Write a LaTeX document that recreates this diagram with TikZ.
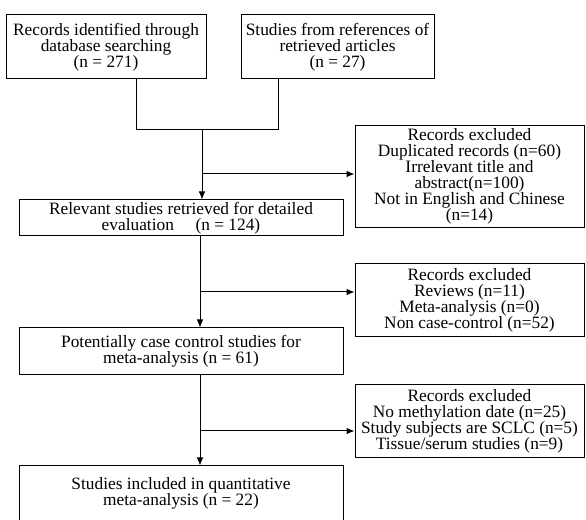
\documentclass[tikz,border=0pt]{standalone}
\usepackage{fontspec}
\setmainfont{Liberation Serif}
\usepackage{tikz}
\usetikzlibrary{arrows.meta, positioning, calc}

\begin{document}
\begin{tikzpicture}[x=0.75pt,y=-0.75pt,
    box/.style={rectangle,draw=black,line width=0.75pt,fill=white,align=center,inner sep=0pt,
        font=\fontsize{13}{12}\selectfont},
    link/.style={line width=0.75pt,black},
    arr/.style={link,-{Latex[length=6pt,width=5pt]}}]
    \clip (0,0) rectangle (586,520);

    % Sources
    \node[box,minimum width=150pt,minimum height=48pt] (db) at (106,47) {Records identified through\\ database searching\\ (n = 271)};
    \node[box,minimum width=144.75pt,minimum height=48pt] (refs) at (337.5,47) {Studies from references of\\ retrieved articles\\ (n = 27)};

    % Main column
    \node[box,minimum width=243pt,minimum height=27pt] (relevant) at (181,218) {Relevant studies retrieved for detailed\\ evaluation\quad\ (n = 124)};
    \node[box,minimum width=243pt,minimum height=35.25pt] (casectrl) at (181,351.5) {Potentially case control studies for\\ meta-analysis (n = 61)};
    \node[box,minimum width=243pt,minimum height=52.5pt] (included) at (181,501) {};
    \node[font=\fontsize{13}{12}\selectfont,align=center] at (181,493) {Studies included in quantitative\\ meta-analysis (n = 22)};

    % Exclusions
    \node[box,minimum width=171.75pt,minimum height=76.5pt] (excl1) at (469.5,176.5) {Records excluded\\ Duplicated records (n=60)\\ Irrelevant title and\\ abstract(n=100)\\ Not in English and Chinese\\ (n=14)};
    \node[box,minimum width=171.75pt,minimum height=54.75pt] (excl2) at (469.5,300.5) {Records excluded\\ Reviews (n=11)\\ Meta-analysis (n=0)\\ Non case-control (n=52)};
    \node[box,minimum width=171.75pt,minimum height=54.75pt] (excl3) at (469.5,421.5) {Records excluded\\ No methylation date (n=25)\\ Study subjects are SCLC (n=5)\\ Tissue/serum studies (n=9)};

    % Merge of the two sources
    \coordinate (dbdrop) at (136,130);
    \coordinate (refsdrop) at (278,130);
    \coordinate (merge) at (202,130);
    \draw[link] (db.south -| dbdrop) -- (dbdrop) -- (refsdrop) -- (refs.south -| refsdrop);
    \draw[arr] (merge) -- (merge |- relevant.north);

    % Trunk and branches
    \coordinate (split1) at (202,174);
    \coordinate (trunk2) at (200,292);
    \coordinate (trunk3) at (200,431);
    \draw[arr] (split1) -- (split1 -| excl1.west);
    \draw[arr] (relevant.south -| trunk2) -- (trunk2 |- casectrl.north);
    \draw[arr] (trunk2) -- (trunk2 -| excl2.west);
    \draw[arr] (casectrl.south -| trunk3) -- (trunk3 |- included.north);
    \draw[arr] (trunk3) -- (trunk3 -| excl3.west);
\end{tikzpicture}
\end{document}
